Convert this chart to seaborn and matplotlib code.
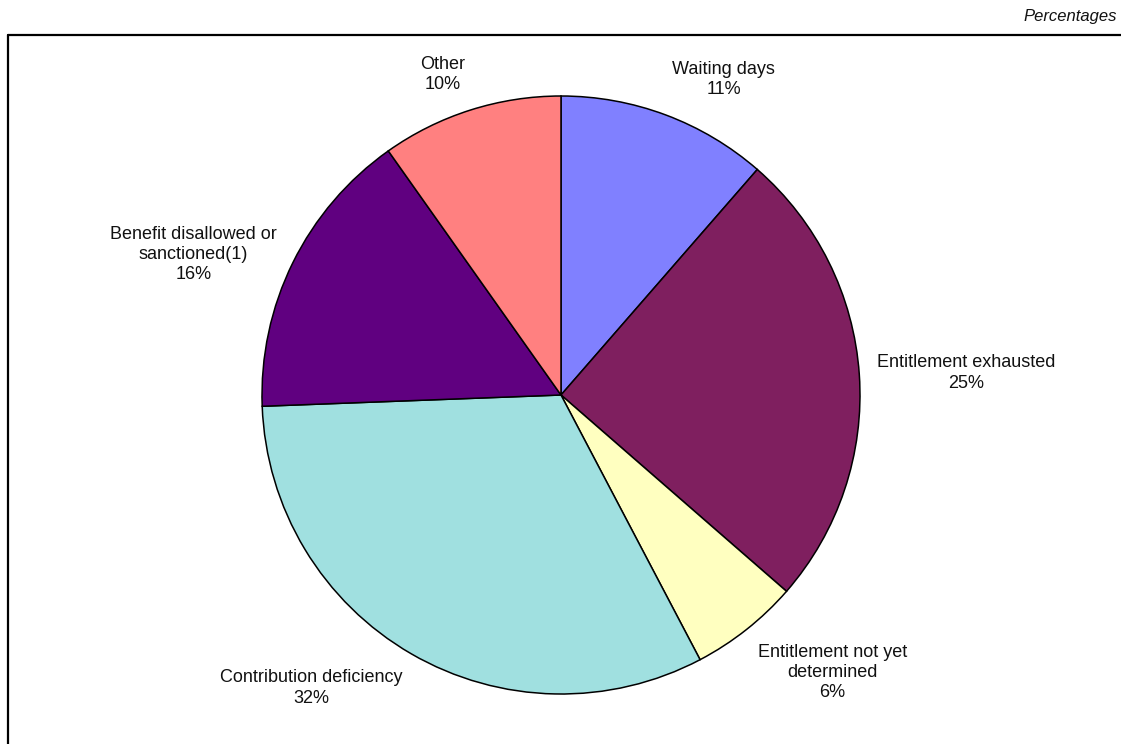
import numpy as np
import matplotlib
matplotlib.use("Agg")
import matplotlib.pyplot as plt
import seaborn as sns
from matplotlib.lines import Line2D

categories = ["Waiting days", "Entitlement exhausted", "Entitlement not yet\ndetermined",
              "Contribution deficiency", "Benefit disallowed or\nsanctioned(1)", "Other"]
values = [11.4, 25.0, 5.9, 32.1, 15.8, 9.8]
colors = ["#8080FF", "#7F1F5F", "#FFFFC0", "#A0E0E0", "#600080", "#FF8080"]

sns.set_theme(style="white")
plt.rcParams['font.family'] = ['Liberation Sans', 'DejaVu Sans']

W, H = 1121, 744
fig = plt.figure(figsize=(W / 100, H / 100), dpi=100)
cx, cy, r = 561, 395, 299
ax = fig.add_axes([(cx - r) / W, (H - cy - r) / H, 2 * r / W, 2 * r / H])

wedges, _ = ax.pie(values, colors=colors, startangle=90, counterclock=False,
                   radius=1.0, wedgeprops=dict(edgecolor="black", linewidth=1.1))
ax.set_xlim(-1, 1)
ax.set_ylim(-1, 1)
ax.set_aspect("equal")
ax.axis("off")

for w, cat, v in zip(wedges, categories, values):
    mid = np.deg2rad((w.theta1 + w.theta2) / 2)
    c, s = np.cos(mid), np.sin(mid)
    x, y = 1.06 * c, 1.06 * s
    ha = "left" if c > 0.05 else ("right" if c < -0.05 else "center")
    va = "bottom" if s > 0.5 else ("top" if s < -0.5 else "center")
    ax.text(x, y, f"{cat}\n{round(v)}%", ha=ha, va=va, multialignment="center",
            fontsize=13, color="#111111", linespacing=1.25, clip_on=False)

fig.text(1117 / W, 1 - 21 / H, "Percentages", ha="right", va="baseline",
         fontsize=12, style="italic", color="#111111")

# frame lines (top and left)
fig.add_artist(Line2D([8 / W, 1], [1 - 35 / H, 1 - 35 / H], transform=fig.transFigure,
                      color="black", linewidth=1.6))
fig.add_artist(Line2D([8 / W, 8 / W], [1 - 35 / H, 0], transform=fig.transFigure,
                      color="black", linewidth=1.6))

fig.savefig("out.png", dpi=100, facecolor="white")
